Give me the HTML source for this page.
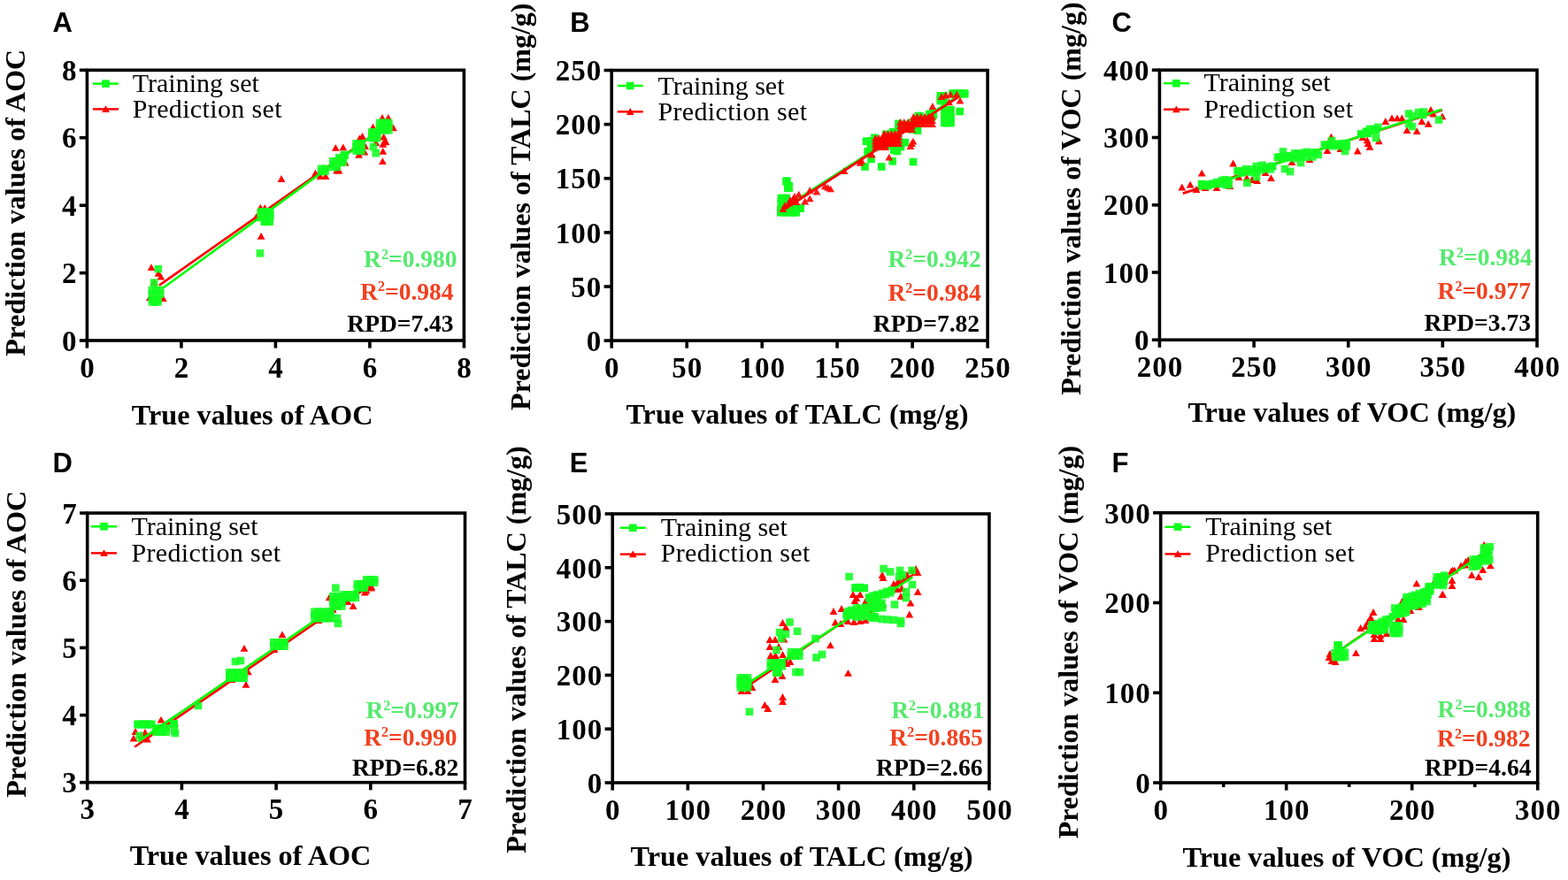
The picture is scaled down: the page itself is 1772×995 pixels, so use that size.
<!DOCTYPE html>
<html><head><meta charset="utf-8"><title>Prediction vs true values</title>
<style>
html,body{margin:0;padding:0;background:#fff;}
body{width:1772px;height:995px;overflow:hidden;}
svg{display:block;}
.tk{font-family:'Liberation Serif', 'Times New Roman', serif;font-weight:bold;font-size:33px;fill:#000;letter-spacing:1px;}
.ti{font-family:'Liberation Serif', 'Times New Roman', serif;font-weight:bold;font-size:32px;fill:#000;}
.tx{font-size:32.25px;}
.lg{font-family:'Liberation Serif', 'Times New Roman', serif;font-size:30px;fill:#000;}
.st{font-family:'Liberation Serif', 'Times New Roman', serif;font-weight:bold;font-size:27.5px;}
.sup{font-size:16px;}
.pl{font-family:'Liberation Sans', Arial, sans-serif;font-weight:bold;font-size:31px;fill:#000;}
</style></head><body>
<svg width="1772" height="995" viewBox="0 0 1772 995">
<rect width="1772" height="995" fill="#fff"/>
<text class="pl" x="59.5" y="36.2">A</text>
<text class="pl" x="644.2" y="35.8">B</text>
<text class="pl" x="1256.5" y="36.4">C</text>
<text class="pl" x="59.6" y="534.3">D</text>
<text class="pl" x="643.7" y="534">E</text>
<text class="pl" x="1256.6" y="534">F</text>
<rect x="98.4" y="79.3" width="426" height="305.7" fill="none" stroke="#000" stroke-width="3.6"/>
<line x1="98.4" y1="385" x2="98.4" y2="393.6" stroke="#000" stroke-width="3.6"/>
<line x1="204.9" y1="385" x2="204.9" y2="393.6" stroke="#000" stroke-width="3.6"/>
<line x1="311.4" y1="385" x2="311.4" y2="393.6" stroke="#000" stroke-width="3.6"/>
<line x1="417.9" y1="385" x2="417.9" y2="393.6" stroke="#000" stroke-width="3.6"/>
<line x1="524.4" y1="385" x2="524.4" y2="393.6" stroke="#000" stroke-width="3.6"/>
<line x1="98.4" y1="385" x2="89.8" y2="385" stroke="#000" stroke-width="3.6"/>
<line x1="98.4" y1="308.6" x2="89.8" y2="308.6" stroke="#000" stroke-width="3.6"/>
<line x1="98.4" y1="232.2" x2="89.8" y2="232.2" stroke="#000" stroke-width="3.6"/>
<line x1="98.4" y1="155.7" x2="89.8" y2="155.7" stroke="#000" stroke-width="3.6"/>
<line x1="98.4" y1="79.3" x2="89.8" y2="79.3" stroke="#000" stroke-width="3.6"/>
<text class="tk" x="98.9" y="426.6" text-anchor="middle">0</text>
<text class="tk" x="205.4" y="426.6" text-anchor="middle">2</text>
<text class="tk" x="311.9" y="426.6" text-anchor="middle">4</text>
<text class="tk" x="418.4" y="426.6" text-anchor="middle">6</text>
<text class="tk" x="524.9" y="426.6" text-anchor="middle">8</text>
<text class="tk" x="87.4" y="396.7" text-anchor="end">0</text>
<text class="tk" x="87.4" y="320.3" text-anchor="end">2</text>
<text class="tk" x="87.4" y="243.8" text-anchor="end">4</text>
<text class="tk" x="87.4" y="167.4" text-anchor="end">6</text>
<text class="tk" x="87.4" y="91" text-anchor="end">8</text>
<text class="ti" transform="translate(28.4 402.8) rotate(-90)">Prediction values of AOC</text>
<text class="ti tx" x="148.8" y="480.3">True values of AOC</text>
<line x1="105" y1="94.6" x2="134" y2="94.6" stroke="#00ff00" stroke-width="2.5"/>
<g fill="#10ff20"><rect x="115.2" y="90.3" width="8.6" height="8.6"/></g>
<line x1="105" y1="123.4" x2="134" y2="123.4" stroke="#ff0000" stroke-width="2.5"/>
<g fill="#ff0000"><path d="M119.5 119.2L123.9 127L115.1 127Z"/></g>
<text class="lg" x="149.8" y="104.4">Training set</text>
<text class="lg" x="149.8" y="133" letter-spacing="0.35">Prediction set</text>
<text class="st" x="411.1" y="302.2" fill="#55ea6e">R<tspan class="sup" dy="-9.4">2</tspan><tspan dy="9.4">=0.980</tspan></text>
<text class="st" x="407.2" y="338.6" fill="#f2401f">R<tspan class="sup" dy="-9.4">2</tspan><tspan dy="9.4">=0.984</tspan></text>
<text class="st" x="392.3" y="374.5" fill="#000">RPD=7.43</text>
<g fill="#ff0000"><path d="M171 298.3L175.4 306.1L166.6 306.1Z"/><path d="M181.8 308.8L186.2 316.6L177.4 316.6Z"/><path d="M179 304.9L183.4 312.7L174.6 312.7Z"/><path d="M174 315.1L178.4 322.9L169.6 322.9Z"/><path d="M169.4 332.5L173.8 340.3L165 340.3Z"/><path d="M184.3 333.1L188.7 340.9L179.9 340.9Z"/><path d="M176 336.1L180.4 343.9L171.6 343.9Z"/><path d="M294.3 230.8L298.7 238.6L289.9 238.6Z"/><path d="M289.8 241L294.2 248.8L285.4 248.8Z"/><path d="M299.2 231.1L303.6 238.9L294.8 238.9Z"/><path d="M295.1 262.9L299.5 270.7L290.7 270.7Z"/><path d="M318 198.1L322.4 205.9L313.6 205.9Z"/><path d="M356.4 191.8L360.8 199.6L352 199.6Z"/><path d="M362 195.1L366.4 202.9L357.6 202.9Z"/><path d="M368 195.1L372.4 202.9L363.6 202.9Z"/><path d="M379.3 162.9L383.7 170.7L374.9 170.7Z"/><path d="M387.8 162.5L392.2 170.3L383.4 170.3Z"/><path d="M390.2 179.8L394.6 187.6L385.8 187.6Z"/><path d="M380.5 188.6L384.9 196.4L376.1 196.4Z"/><path d="M383 188.6L387.4 196.4L378.6 196.4Z"/><path d="M409.5 150L413.9 157.8L405.1 157.8Z"/><path d="M406.3 152.5L410.7 160.3L401.9 160.3Z"/><path d="M405.5 170.9L409.9 178.7L401.1 178.7Z"/><path d="M411.9 167.7L416.3 175.5L407.5 175.5Z"/><path d="M412.7 161.3L417.1 169.1L408.3 169.1Z"/><path d="M421.5 139.6L425.9 147.4L417.1 147.4Z"/><path d="M424.8 157.3L429.2 165.1L420.4 165.1Z"/><path d="M432 129.1L436.4 136.9L427.6 136.9Z"/><path d="M438.8 129.1L443.2 136.9L434.4 136.9Z"/><path d="M444.5 140.4L448.9 148.2L440.1 148.2Z"/><path d="M433.6 150.8L438 158.6L429.2 158.6Z"/><path d="M435.2 154.9L439.6 162.7L430.8 162.7Z"/><path d="M432.8 158.9L437.2 166.7L428.4 166.7Z"/><path d="M436 156.5L440.4 164.3L431.6 164.3Z"/><path d="M432.8 166.9L437.2 174.7L428.4 174.7Z"/><path d="M432.4 178.2L436.8 186L428 186Z"/></g>
<line x1="179.9" y1="322.6" x2="441" y2="139.2" stroke="#ff0000" stroke-width="2.7"/>
<line x1="183.8" y1="326" x2="441" y2="138.6" stroke="#00ff00" stroke-width="2.7"/>
<g fill="#10ff20" fill-opacity="0.88"><rect x="167.5" y="323.7" width="8.6" height="8.6"/><rect x="167.5" y="328.4" width="8.6" height="8.6"/><rect x="172.1" y="323.7" width="8.6" height="8.6"/><rect x="172.1" y="328.4" width="8.6" height="8.6"/><rect x="176.8" y="323.7" width="8.6" height="8.6"/><rect x="176.8" y="328.4" width="8.6" height="8.6"/><rect x="167.7" y="335" width="8.6" height="8.6"/><rect x="167.7" y="337.2" width="8.6" height="8.6"/><rect x="170.9" y="335" width="8.6" height="8.6"/><rect x="170.9" y="337.2" width="8.6" height="8.6"/><rect x="174.1" y="335" width="8.6" height="8.6"/><rect x="174.1" y="337.2" width="8.6" height="8.6"/><rect x="174.5" y="299.8" width="8.6" height="8.6"/><rect x="169.8" y="315.3" width="8.6" height="8.6"/><rect x="290.6" y="235.1" width="8.6" height="8.6"/><rect x="290.6" y="238.3" width="8.6" height="8.6"/><rect x="290.6" y="241.6" width="8.6" height="8.6"/><rect x="294" y="235.1" width="8.6" height="8.6"/><rect x="294" y="238.3" width="8.6" height="8.6"/><rect x="294" y="241.6" width="8.6" height="8.6"/><rect x="297.4" y="235.1" width="8.6" height="8.6"/><rect x="297.4" y="238.3" width="8.6" height="8.6"/><rect x="297.4" y="241.6" width="8.6" height="8.6"/><rect x="300.8" y="235.1" width="8.6" height="8.6"/><rect x="300.8" y="238.3" width="8.6" height="8.6"/><rect x="300.8" y="241.6" width="8.6" height="8.6"/><rect x="294.7" y="246" width="8.6" height="8.6"/><rect x="294.7" y="246.5" width="8.6" height="8.6"/><rect x="297.4" y="246" width="8.6" height="8.6"/><rect x="297.4" y="246.5" width="8.6" height="8.6"/><rect x="300.1" y="246" width="8.6" height="8.6"/><rect x="300.1" y="246.5" width="8.6" height="8.6"/><rect x="289.7" y="282.1" width="8.6" height="8.6"/><rect x="358.8" y="186.5" width="8.6" height="8.6"/><rect x="358.8" y="189.6" width="8.6" height="8.6"/><rect x="363.1" y="186.5" width="8.6" height="8.6"/><rect x="363.1" y="189.6" width="8.6" height="8.6"/><rect x="372" y="178" width="8.6" height="8.6"/><rect x="372" y="181.3" width="8.6" height="8.6"/><rect x="372" y="184.7" width="8.6" height="8.6"/><rect x="376.4" y="178" width="8.6" height="8.6"/><rect x="376.4" y="181.3" width="8.6" height="8.6"/><rect x="376.4" y="184.7" width="8.6" height="8.6"/><rect x="379" y="174" width="8.6" height="8.6"/><rect x="379" y="176.7" width="8.6" height="8.6"/><rect x="379" y="179.4" width="8.6" height="8.6"/><rect x="383.4" y="174" width="8.6" height="8.6"/><rect x="383.4" y="176.7" width="8.6" height="8.6"/><rect x="383.4" y="179.4" width="8.6" height="8.6"/><rect x="384.9" y="170.8" width="8.6" height="8.6"/><rect x="384.9" y="171.4" width="8.6" height="8.6"/><rect x="384.9" y="170.8" width="8.6" height="8.6"/><rect x="384.9" y="171.4" width="8.6" height="8.6"/><rect x="398.2" y="158" width="8.6" height="8.6"/><rect x="398.2" y="162.1" width="8.6" height="8.6"/><rect x="398.2" y="166.2" width="8.6" height="8.6"/><rect x="401.1" y="158" width="8.6" height="8.6"/><rect x="401.1" y="162.1" width="8.6" height="8.6"/><rect x="401.1" y="166.2" width="8.6" height="8.6"/><rect x="404.1" y="158" width="8.6" height="8.6"/><rect x="404.1" y="162.1" width="8.6" height="8.6"/><rect x="404.1" y="166.2" width="8.6" height="8.6"/><rect x="415.9" y="145.1" width="8.6" height="8.6"/><rect x="415.9" y="148.4" width="8.6" height="8.6"/><rect x="415.9" y="151.8" width="8.6" height="8.6"/><rect x="418.8" y="145.1" width="8.6" height="8.6"/><rect x="418.8" y="148.4" width="8.6" height="8.6"/><rect x="418.8" y="151.8" width="8.6" height="8.6"/><rect x="421.8" y="145.1" width="8.6" height="8.6"/><rect x="421.8" y="148.4" width="8.6" height="8.6"/><rect x="421.8" y="151.8" width="8.6" height="8.6"/><rect x="424.8" y="134.6" width="8.6" height="8.6"/><rect x="424.8" y="138.8" width="8.6" height="8.6"/><rect x="424.8" y="142.9" width="8.6" height="8.6"/><rect x="428.2" y="134.6" width="8.6" height="8.6"/><rect x="428.2" y="138.8" width="8.6" height="8.6"/><rect x="428.2" y="142.9" width="8.6" height="8.6"/><rect x="431.6" y="134.6" width="8.6" height="8.6"/><rect x="431.6" y="138.8" width="8.6" height="8.6"/><rect x="431.6" y="142.9" width="8.6" height="8.6"/><rect x="435" y="134.6" width="8.6" height="8.6"/><rect x="435" y="138.8" width="8.6" height="8.6"/><rect x="435" y="142.9" width="8.6" height="8.6"/><rect x="417.6" y="161.7" width="8.6" height="8.6"/><rect x="420.5" y="168.9" width="8.6" height="8.6"/></g>
<rect x="691.2" y="79.5" width="424.9" height="305.6" fill="none" stroke="#000" stroke-width="3.6"/>
<line x1="691.2" y1="385.1" x2="691.2" y2="393.7" stroke="#000" stroke-width="3.6"/>
<line x1="776.2" y1="385.1" x2="776.2" y2="393.7" stroke="#000" stroke-width="3.6"/>
<line x1="861.2" y1="385.1" x2="861.2" y2="393.7" stroke="#000" stroke-width="3.6"/>
<line x1="946.1" y1="385.1" x2="946.1" y2="393.7" stroke="#000" stroke-width="3.6"/>
<line x1="1031.1" y1="385.1" x2="1031.1" y2="393.7" stroke="#000" stroke-width="3.6"/>
<line x1="1116.1" y1="385.1" x2="1116.1" y2="393.7" stroke="#000" stroke-width="3.6"/>
<line x1="691.2" y1="385.1" x2="682.6" y2="385.1" stroke="#000" stroke-width="3.6"/>
<line x1="691.2" y1="324" x2="682.6" y2="324" stroke="#000" stroke-width="3.6"/>
<line x1="691.2" y1="262.9" x2="682.6" y2="262.9" stroke="#000" stroke-width="3.6"/>
<line x1="691.2" y1="201.7" x2="682.6" y2="201.7" stroke="#000" stroke-width="3.6"/>
<line x1="691.2" y1="140.6" x2="682.6" y2="140.6" stroke="#000" stroke-width="3.6"/>
<line x1="691.2" y1="79.5" x2="682.6" y2="79.5" stroke="#000" stroke-width="3.6"/>
<text class="tk" x="691.7" y="426.7" text-anchor="middle">0</text>
<text class="tk" x="776.7" y="426.7" text-anchor="middle">50</text>
<text class="tk" x="861.7" y="426.7" text-anchor="middle">100</text>
<text class="tk" x="946.6" y="426.7" text-anchor="middle">150</text>
<text class="tk" x="1031.6" y="426.7" text-anchor="middle">200</text>
<text class="tk" x="1116.6" y="426.7" text-anchor="middle">250</text>
<text class="tk" x="680.2" y="396.8" text-anchor="end">0</text>
<text class="tk" x="680.2" y="335.7" text-anchor="end">50</text>
<text class="tk" x="680.2" y="274.6" text-anchor="end">100</text>
<text class="tk" x="680.2" y="213.4" text-anchor="end">150</text>
<text class="tk" x="680.2" y="152.3" text-anchor="end">200</text>
<text class="tk" x="680.2" y="91.2" text-anchor="end">250</text>
<text class="ti" transform="translate(599.0 463.9) rotate(-90)">Prediction values of TALC (mg/g)</text>
<text class="ti tx" x="707.5" y="478.5">True values of TALC (mg/g)</text>
<line x1="697.7" y1="97" x2="726.7" y2="97" stroke="#00ff00" stroke-width="2.5"/>
<g fill="#10ff20"><rect x="707.9" y="92.7" width="8.6" height="8.6"/></g>
<line x1="697.7" y1="126.3" x2="726.7" y2="126.3" stroke="#ff0000" stroke-width="2.5"/>
<g fill="#ff0000"><path d="M712.2 122.1L716.6 129.9L707.8 129.9Z"/></g>
<text class="lg" x="743.4" y="106.6">Training set</text>
<text class="lg" x="743.4" y="135.8" letter-spacing="0.35">Prediction set</text>
<text class="st" x="1003.4" y="302.1" fill="#55ea6e">R<tspan class="sup" dy="-9.4">2</tspan><tspan dy="9.4">=0.942</tspan></text>
<text class="st" x="1003.4" y="340.2" fill="#f2401f">R<tspan class="sup" dy="-9.4">2</tspan><tspan dy="9.4">=0.984</tspan></text>
<text class="st" x="986.8" y="374.5" fill="#000">RPD=7.82</text>
<g fill="#10ff20"><rect x="884.5" y="200.5" width="8.6" height="8.6"/><rect x="884.5" y="200.9" width="8.6" height="8.6"/><rect x="884.9" y="200.5" width="8.6" height="8.6"/><rect x="884.9" y="200.9" width="8.6" height="8.6"/><rect x="886" y="206" width="8.6" height="8.6"/><rect x="886" y="208.4" width="8.6" height="8.6"/><rect x="887.4" y="206" width="8.6" height="8.6"/><rect x="887.4" y="208.4" width="8.6" height="8.6"/><rect x="878.6" y="219.7" width="8.6" height="8.6"/><rect x="878.6" y="223" width="8.6" height="8.6"/><rect x="878.6" y="226.4" width="8.6" height="8.6"/><rect x="881.5" y="219.7" width="8.6" height="8.6"/><rect x="881.5" y="223" width="8.6" height="8.6"/><rect x="881.5" y="226.4" width="8.6" height="8.6"/><rect x="884.4" y="219.7" width="8.6" height="8.6"/><rect x="884.4" y="223" width="8.6" height="8.6"/><rect x="884.4" y="226.4" width="8.6" height="8.6"/><rect x="878" y="233" width="8.6" height="8.6"/><rect x="878" y="236" width="8.6" height="8.6"/><rect x="882.4" y="233" width="8.6" height="8.6"/><rect x="882.4" y="236" width="8.6" height="8.6"/><rect x="886.7" y="233" width="8.6" height="8.6"/><rect x="886.7" y="236" width="8.6" height="8.6"/><rect x="891.1" y="233" width="8.6" height="8.6"/><rect x="891.1" y="236" width="8.6" height="8.6"/><rect x="895.4" y="233" width="8.6" height="8.6"/><rect x="895.4" y="236" width="8.6" height="8.6"/><rect x="890" y="231" width="8.6" height="8.6"/><rect x="890" y="231.4" width="8.6" height="8.6"/><rect x="893.5" y="231" width="8.6" height="8.6"/><rect x="893.5" y="231.4" width="8.6" height="8.6"/><rect x="896.9" y="231" width="8.6" height="8.6"/><rect x="896.9" y="231.4" width="8.6" height="8.6"/><rect x="900.4" y="231" width="8.6" height="8.6"/><rect x="900.4" y="231.4" width="8.6" height="8.6"/><rect x="997.8" y="160.1" width="8.6" height="8.6"/><rect x="1010.9" y="151.1" width="8.6" height="8.6"/><rect x="985" y="155.7" width="8.6" height="8.6"/><rect x="1001.7" y="158.6" width="8.6" height="8.6"/><rect x="979.9" y="155" width="8.6" height="8.6"/><rect x="1005.1" y="150.5" width="8.6" height="8.6"/><rect x="990.7" y="155.8" width="8.6" height="8.6"/><rect x="985.7" y="156" width="8.6" height="8.6"/><rect x="983.9" y="162.7" width="8.6" height="8.6"/><rect x="1003.6" y="150.9" width="8.6" height="8.6"/><rect x="991.7" y="155.1" width="8.6" height="8.6"/><rect x="1000" y="151.8" width="8.6" height="8.6"/><rect x="996.8" y="147.5" width="8.6" height="8.6"/><rect x="1001.3" y="152.7" width="8.6" height="8.6"/><rect x="982.1" y="155.1" width="8.6" height="8.6"/><rect x="979.5" y="163.4" width="8.6" height="8.6"/><rect x="974.7" y="155.4" width="8.6" height="8.6"/><rect x="984.1" y="151.5" width="8.6" height="8.6"/><rect x="976.3" y="167.1" width="8.6" height="8.6"/><rect x="980.2" y="175.7" width="8.6" height="8.6"/><rect x="973.2" y="184.2" width="8.6" height="8.6"/><rect x="991.9" y="184.2" width="8.6" height="8.6"/><rect x="1004.4" y="178" width="8.6" height="8.6"/><rect x="1006" y="165.5" width="8.6" height="8.6"/><rect x="1027.7" y="178.7" width="8.6" height="8.6"/><rect x="1032.4" y="142.1" width="8.6" height="8.6"/><rect x="1026.2" y="142.1" width="8.6" height="8.6"/><rect x="1018.7" y="156.8" width="8.6" height="8.6"/><rect x="1013.8" y="161.7" width="8.6" height="8.6"/><rect x="1004.7" y="144.8" width="8.6" height="8.6"/><rect x="1032.7" y="143.4" width="8.6" height="8.6"/><rect x="1009.6" y="166.7" width="8.6" height="8.6"/><rect x="1011.2" y="135.5" width="8.6" height="8.6"/><rect x="1038.3" y="129.6" width="8.6" height="8.6"/><rect x="1033.6" y="127" width="8.6" height="8.6"/><rect x="1029.6" y="134" width="8.6" height="8.6"/><rect x="1046.8" y="127" width="8.6" height="8.6"/><rect x="1013.2" y="142" width="8.6" height="8.6"/><rect x="1037.2" y="130.7" width="8.6" height="8.6"/><rect x="1026.7" y="134.5" width="8.6" height="8.6"/><rect x="1011.1" y="141.1" width="8.6" height="8.6"/><rect x="1035" y="126.7" width="8.6" height="8.6"/><rect x="1020.4" y="136.8" width="8.6" height="8.6"/><rect x="1039.3" y="129.3" width="8.6" height="8.6"/><rect x="1046.1" y="124.6" width="8.6" height="8.6"/><rect x="1032.4" y="132.1" width="8.6" height="8.6"/><rect x="1030.3" y="135.4" width="8.6" height="8.6"/><rect x="1047.5" y="130" width="8.6" height="8.6"/><rect x="1027.9" y="134" width="8.6" height="8.6"/><rect x="1035.1" y="134.5" width="8.6" height="8.6"/><rect x="1023.3" y="137" width="8.6" height="8.6"/><rect x="1048.1" y="128.4" width="8.6" height="8.6"/><rect x="1050.6" y="125.9" width="8.6" height="8.6"/><rect x="1050.3" y="123.7" width="8.6" height="8.6"/><rect x="1072.6" y="101.2" width="8.6" height="8.6"/><rect x="1072.6" y="102" width="8.6" height="8.6"/><rect x="1077" y="101.2" width="8.6" height="8.6"/><rect x="1077" y="102" width="8.6" height="8.6"/><rect x="1081.4" y="101.2" width="8.6" height="8.6"/><rect x="1081.4" y="102" width="8.6" height="8.6"/><rect x="1085.8" y="101.2" width="8.6" height="8.6"/><rect x="1085.8" y="102" width="8.6" height="8.6"/><rect x="1058.6" y="104" width="8.6" height="8.6"/><rect x="1058.6" y="106.9" width="8.6" height="8.6"/><rect x="1058.6" y="109.8" width="8.6" height="8.6"/><rect x="1062.4" y="104" width="8.6" height="8.6"/><rect x="1062.4" y="106.9" width="8.6" height="8.6"/><rect x="1062.4" y="109.8" width="8.6" height="8.6"/><rect x="1063.2" y="120" width="8.6" height="8.6"/><rect x="1063.2" y="124.9" width="8.6" height="8.6"/><rect x="1063.2" y="129.8" width="8.6" height="8.6"/><rect x="1063.2" y="134.7" width="8.6" height="8.6"/><rect x="1066.7" y="120" width="8.6" height="8.6"/><rect x="1066.7" y="124.9" width="8.6" height="8.6"/><rect x="1066.7" y="129.8" width="8.6" height="8.6"/><rect x="1066.7" y="134.7" width="8.6" height="8.6"/><rect x="1070.2" y="120" width="8.6" height="8.6"/><rect x="1070.2" y="124.9" width="8.6" height="8.6"/><rect x="1070.2" y="129.8" width="8.6" height="8.6"/><rect x="1070.2" y="134.7" width="8.6" height="8.6"/><rect x="1080.4" y="121.7" width="8.6" height="8.6"/></g>
<line x1="887" y1="234.5" x2="1083" y2="108.5" stroke="#00ff00" stroke-width="2.7"/>
<line x1="885" y1="237.5" x2="1083" y2="109.8" stroke="#ff0000" stroke-width="2.7"/>
<g fill="#ff0000" fill-opacity="0.9"><path d="M887.1 228.2L891.5 236L882.7 236Z"/><path d="M891.8 225.1L896.2 232.9L887.4 232.9Z"/><path d="M896.5 220.4L900.9 228.2L892.1 228.2Z"/><path d="M902.7 215.8L907.1 223.6L898.3 223.6Z"/><path d="M909.7 223.6L914.1 231.4L905.3 231.4Z"/><path d="M915.2 220.4L919.6 228.2L910.8 228.2Z"/><path d="M915.2 211.1L919.6 218.9L910.8 218.9Z"/><path d="M923 212.7L927.4 220.5L918.6 220.5Z"/><path d="M932.3 206.4L936.7 214.2L927.9 214.2Z"/><path d="M935.5 208L939.9 215.8L931.1 215.8Z"/><path d="M938.6 209.5L943 217.3L934.2 217.3Z"/><path d="M954.2 189.3L958.6 197.1L949.8 197.1Z"/><path d="M972 179.9L976.4 187.7L967.6 187.7Z"/><path d="M973.6 177.6L978 185.4L969.2 185.4Z"/><path d="M985.3 170.6L989.7 178.4L980.9 178.4Z"/><path d="M1004.8 173.7L1009.2 181.5L1000.4 181.5Z"/><path d="M1029 161.1L1033.4 168.9L1024.6 168.9Z"/><path d="M1030.5 158.1L1034.9 165.9L1026.1 165.9Z"/><path d="M1032 155.8L1036.4 163.6L1027.6 163.6Z"/><path d="M1053.9 116.1L1058.3 123.9L1049.5 123.9Z"/><path d="M1085 109.8L1089.4 117.6L1080.6 117.6Z"/><path d="M1064 105.1L1068.4 112.9L1059.6 112.9Z"/><path d="M1068.7 103.6L1073.1 111.4L1064.3 111.4Z"/><path d="M1074.1 102.8L1078.5 110.6L1069.7 110.6Z"/><path d="M1081.2 102.8L1085.6 110.6L1076.8 110.6Z"/><path d="M1072.6 111.4L1077 119.2L1068.2 119.2Z"/><path d="M893 222.1L897.4 229.9L888.6 229.9Z"/><path d="M898 218.1L902.4 225.9L893.6 225.9Z"/><path d="M885 232.1L889.4 239.9L880.6 239.9Z"/><path d="M900 224.1L904.4 231.9L895.6 231.9Z"/><path d="M989.4 152L993.8 159.8L985 159.8Z"/><path d="M989.4 155.4L993.8 163.2L985 163.2Z"/><path d="M989.4 158.8L993.8 166.6L985 166.6Z"/><path d="M989.4 162.2L993.8 170L985 170Z"/><path d="M993.1 152L997.5 159.8L988.7 159.8Z"/><path d="M993.1 155.4L997.5 163.2L988.7 163.2Z"/><path d="M993.1 158.8L997.5 166.6L988.7 166.6Z"/><path d="M993.1 162.2L997.5 170L988.7 170Z"/><path d="M996.9 152L1001.3 159.8L992.5 159.8Z"/><path d="M996.9 155.4L1001.3 163.2L992.5 163.2Z"/><path d="M996.9 158.8L1001.3 166.6L992.5 166.6Z"/><path d="M996.9 162.2L1001.3 170L992.5 170Z"/><path d="M1000.6 152L1005 159.8L996.2 159.8Z"/><path d="M1000.6 155.4L1005 163.2L996.2 163.2Z"/><path d="M1000.6 158.8L1005 166.6L996.2 166.6Z"/><path d="M1000.6 162.2L1005 170L996.2 170Z"/><path d="M999.4 147L1003.8 154.8L995 154.8Z"/><path d="M999.4 150.7L1003.8 158.5L995 158.5Z"/><path d="M999.4 154.5L1003.8 162.3L995 162.3Z"/><path d="M999.4 158.2L1003.8 166L995 166Z"/><path d="M1003.5 147L1007.9 154.8L999.1 154.8Z"/><path d="M1003.5 150.7L1007.9 158.5L999.1 158.5Z"/><path d="M1003.5 154.5L1007.9 162.3L999.1 162.3Z"/><path d="M1003.5 158.2L1007.9 166L999.1 166Z"/><path d="M1007.5 147L1011.9 154.8L1003.1 154.8Z"/><path d="M1007.5 150.7L1011.9 158.5L1003.1 158.5Z"/><path d="M1007.5 154.5L1011.9 162.3L1003.1 162.3Z"/><path d="M1007.5 158.2L1011.9 166L1003.1 166Z"/><path d="M1011.5 147L1015.9 154.8L1007.1 154.8Z"/><path d="M1011.5 150.7L1015.9 158.5L1007.1 158.5Z"/><path d="M1011.5 154.5L1015.9 162.3L1007.1 162.3Z"/><path d="M1011.5 158.2L1015.9 166L1007.1 166Z"/><path d="M1015.6 147L1020 154.8L1011.2 154.8Z"/><path d="M1015.6 150.7L1020 158.5L1011.2 158.5Z"/><path d="M1015.6 154.5L1020 162.3L1011.2 162.3Z"/><path d="M1015.6 158.2L1020 166L1011.2 166Z"/><path d="M1004.4 156L1008.8 163.8L1000 163.8Z"/><path d="M1004.4 158.2L1008.8 166L1000 166Z"/><path d="M1007.6 156L1012 163.8L1003.2 163.8Z"/><path d="M1007.6 158.2L1012 166L1003.2 166Z"/><path d="M1017.4 134L1021.8 141.8L1013 141.8Z"/><path d="M1017.4 138.1L1021.8 145.9L1013 145.9Z"/><path d="M1017.4 142.2L1021.8 150L1013 150Z"/><path d="M1021.8 134L1026.2 141.8L1017.4 141.8Z"/><path d="M1021.8 138.1L1026.2 145.9L1017.4 145.9Z"/><path d="M1021.8 142.2L1026.2 150L1017.4 150Z"/><path d="M1026.2 134L1030.6 141.8L1021.8 141.8Z"/><path d="M1026.2 138.1L1030.6 145.9L1021.8 145.9Z"/><path d="M1026.2 142.2L1030.6 150L1021.8 150Z"/><path d="M1030.6 134L1035 141.8L1026.2 141.8Z"/><path d="M1030.6 138.1L1035 145.9L1026.2 145.9Z"/><path d="M1030.6 142.2L1035 150L1026.2 150Z"/><path d="M1032.4 128L1036.8 135.8L1028 135.8Z"/><path d="M1032.4 132.1L1036.8 139.9L1028 139.9Z"/><path d="M1032.4 136.2L1036.8 144L1028 144Z"/><path d="M1036.6 128L1041 135.8L1032.2 135.8Z"/><path d="M1036.6 132.1L1041 139.9L1032.2 139.9Z"/><path d="M1036.6 136.2L1041 144L1032.2 144Z"/><path d="M1040.9 128L1045.3 135.8L1036.5 135.8Z"/><path d="M1040.9 132.1L1045.3 139.9L1036.5 139.9Z"/><path d="M1040.9 136.2L1045.3 144L1036.5 144Z"/><path d="M1045.1 128L1049.5 135.8L1040.7 135.8Z"/><path d="M1045.1 132.1L1049.5 139.9L1040.7 139.9Z"/><path d="M1045.1 136.2L1049.5 144L1040.7 144Z"/><path d="M1049.4 128L1053.8 135.8L1045 135.8Z"/><path d="M1049.4 132.1L1053.8 139.9L1045 139.9Z"/><path d="M1049.4 136.2L1053.8 144L1045 144Z"/><path d="M1053.6 128L1058 135.8L1049.2 135.8Z"/><path d="M1053.6 132.1L1058 139.9L1049.2 139.9Z"/><path d="M1053.6 136.2L1058 144L1049.2 144Z"/></g>
<rect x="1310.4" y="79.2" width="426.6" height="305.1" fill="none" stroke="#000" stroke-width="3.6"/>
<line x1="1310.4" y1="384.3" x2="1310.4" y2="392.9" stroke="#000" stroke-width="3.6"/>
<line x1="1417.1" y1="384.3" x2="1417.1" y2="392.9" stroke="#000" stroke-width="3.6"/>
<line x1="1523.7" y1="384.3" x2="1523.7" y2="392.9" stroke="#000" stroke-width="3.6"/>
<line x1="1630.3" y1="384.3" x2="1630.3" y2="392.9" stroke="#000" stroke-width="3.6"/>
<line x1="1737" y1="384.3" x2="1737" y2="392.9" stroke="#000" stroke-width="3.6"/>
<line x1="1310.4" y1="384.3" x2="1301.8" y2="384.3" stroke="#000" stroke-width="3.6"/>
<line x1="1310.4" y1="308" x2="1301.8" y2="308" stroke="#000" stroke-width="3.6"/>
<line x1="1310.4" y1="231.8" x2="1301.8" y2="231.8" stroke="#000" stroke-width="3.6"/>
<line x1="1310.4" y1="155.5" x2="1301.8" y2="155.5" stroke="#000" stroke-width="3.6"/>
<line x1="1310.4" y1="79.2" x2="1301.8" y2="79.2" stroke="#000" stroke-width="3.6"/>
<text class="tk" x="1310.9" y="425.9" text-anchor="middle">200</text>
<text class="tk" x="1417.6" y="425.9" text-anchor="middle">250</text>
<text class="tk" x="1524.2" y="425.9" text-anchor="middle">300</text>
<text class="tk" x="1630.8" y="425.9" text-anchor="middle">350</text>
<text class="tk" x="1737.5" y="425.9" text-anchor="middle">400</text>
<text class="tk" x="1299.4" y="396" text-anchor="end">0</text>
<text class="tk" x="1299.4" y="319.7" text-anchor="end">100</text>
<text class="tk" x="1299.4" y="243.4" text-anchor="end">200</text>
<text class="tk" x="1299.4" y="167.2" text-anchor="end">300</text>
<text class="tk" x="1299.4" y="90.9" text-anchor="end">400</text>
<text class="ti" transform="translate(1220.7 446.8) rotate(-90)">Prediction values of VOC (mg/g)</text>
<text class="ti tx" x="1342.5" y="476.6">True values of VOC (mg/g)</text>
<line x1="1314.9" y1="94.2" x2="1343.9" y2="94.2" stroke="#00ff00" stroke-width="2.5"/>
<g fill="#10ff20"><rect x="1325.1" y="89.9" width="8.6" height="8.6"/></g>
<line x1="1314.9" y1="123.7" x2="1343.9" y2="123.7" stroke="#ff0000" stroke-width="2.5"/>
<g fill="#ff0000"><path d="M1329.4 119.5L1333.8 127.3L1325 127.3Z"/></g>
<text class="lg" x="1360.4" y="103.3">Training set</text>
<text class="lg" x="1360.4" y="133.2" letter-spacing="0.35">Prediction set</text>
<text class="st" x="1626.1" y="300.1" fill="#55ea6e">R<tspan class="sup" dy="-9.4">2</tspan><tspan dy="9.4">=0.984</tspan></text>
<text class="st" x="1624.5" y="338" fill="#f2401f">R<tspan class="sup" dy="-9.4">2</tspan><tspan dy="9.4">=0.977</tspan></text>
<text class="st" x="1609.6" y="374" fill="#000">RPD=3.73</text>
<g fill="#ff0000"><path d="M1335.8 207.6L1340.2 215.4L1331.4 215.4Z"/><path d="M1345.1 204.8L1349.5 212.6L1340.7 212.6Z"/><path d="M1358.2 191.8L1362.6 199.6L1353.8 199.6Z"/><path d="M1393.6 180.6L1398 188.4L1389.2 188.4Z"/><path d="M1409 197.1L1413.4 204.9L1404.6 204.9Z"/><path d="M1415 199.1L1419.4 206.9L1410.6 206.9Z"/><path d="M1420.6 200.1L1425 207.9L1416.2 207.9Z"/><path d="M1436.4 197.3L1440.8 205.1L1432 205.1Z"/><path d="M1504.4 150.8L1508.8 158.6L1500 158.6Z"/><path d="M1534.2 166.6L1538.6 174.4L1529.8 174.4Z"/><path d="M1545 154.5L1549.4 162.3L1540.6 162.3Z"/><path d="M1546 158.1L1550.4 165.9L1541.6 165.9Z"/><path d="M1548 162L1552.4 169.8L1543.6 169.8Z"/><path d="M1558.4 155.4L1562.8 163.2L1554 163.2Z"/><path d="M1565.8 133.1L1570.2 140.9L1561.4 140.9Z"/><path d="M1573 129.4L1577.4 137.2L1568.6 137.2Z"/><path d="M1579 129.4L1583.4 137.2L1574.6 137.2Z"/><path d="M1584.4 129.4L1588.8 137.2L1580 137.2Z"/><path d="M1590 143.3L1594.4 151.1L1585.6 151.1Z"/><path d="M1601.2 144.3L1605.6 152.1L1596.8 152.1Z"/><path d="M1606.8 133.1L1611.2 140.9L1602.4 140.9Z"/><path d="M1614.2 135.9L1618.6 143.7L1609.8 143.7Z"/><path d="M1617 120.1L1621.4 127.9L1612.6 127.9Z"/><path d="M1619.8 124.7L1624.2 132.5L1615.4 132.5Z"/><path d="M1630 127.5L1634.4 135.3L1625.6 135.3Z"/><path d="M1352 210.1L1356.4 217.9L1347.6 217.9Z"/><path d="M1362 208.1L1366.4 215.9L1357.6 215.9Z"/><path d="M1375 208.1L1379.4 215.9L1370.6 215.9Z"/><path d="M1390 206.1L1394.4 213.9L1385.6 213.9Z"/><path d="M1400 196.1L1404.4 203.9L1395.6 203.9Z"/><path d="M1430 191.1L1434.4 198.9L1425.6 198.9Z"/><path d="M1460 179.1L1464.4 186.9L1455.6 186.9Z"/><path d="M1480 176.1L1484.4 183.9L1475.6 183.9Z"/><path d="M1500 166.1L1504.4 173.9L1495.6 173.9Z"/><path d="M1515 164.1L1519.4 171.9L1510.6 171.9Z"/><path d="M1540 151.1L1544.4 158.9L1535.6 158.9Z"/></g>
<line x1="1336.8" y1="218.6" x2="1630" y2="124.5" stroke="#ff0000" stroke-width="2.7"/>
<line x1="1355" y1="214" x2="1629" y2="123.9" stroke="#00ff00" stroke-width="2.7"/>
<g fill="#10ff20" fill-opacity="0.88"><rect x="1353.9" y="203.7" width="8.6" height="8.6"/><rect x="1353.7" y="204.4" width="8.6" height="8.6"/><rect x="1361.5" y="204.1" width="8.6" height="8.6"/><rect x="1360.5" y="205.9" width="8.6" height="8.6"/><rect x="1365.5" y="203.9" width="8.6" height="8.6"/><rect x="1366" y="203.5" width="8.6" height="8.6"/><rect x="1370.9" y="201.7" width="8.6" height="8.6"/><rect x="1370.8" y="203.6" width="8.6" height="8.6"/><rect x="1376.5" y="199.8" width="8.6" height="8.6"/><rect x="1375" y="203.5" width="8.6" height="8.6"/><rect x="1380" y="198.9" width="8.6" height="8.6"/><rect x="1381.7" y="204.8" width="8.6" height="8.6"/><rect x="1384.2" y="199.5" width="8.6" height="8.6"/><rect x="1384.4" y="204.5" width="8.6" height="8.6"/><rect x="1395.4" y="188.9" width="8.6" height="8.6"/><rect x="1394.2" y="189.1" width="8.6" height="8.6"/><rect x="1400.6" y="189.2" width="8.6" height="8.6"/><rect x="1399.7" y="191.1" width="8.6" height="8.6"/><rect x="1403.7" y="186.8" width="8.6" height="8.6"/><rect x="1404.3" y="189.6" width="8.6" height="8.6"/><rect x="1411.1" y="187.1" width="8.6" height="8.6"/><rect x="1410.8" y="190.6" width="8.6" height="8.6"/><rect x="1415.5" y="183.6" width="8.6" height="8.6"/><rect x="1416" y="189.8" width="8.6" height="8.6"/><rect x="1422.3" y="182.5" width="8.6" height="8.6"/><rect x="1420.7" y="187.8" width="8.6" height="8.6"/><rect x="1426.9" y="184.6" width="8.6" height="8.6"/><rect x="1426.2" y="186.8" width="8.6" height="8.6"/><rect x="1433.8" y="183.8" width="8.6" height="8.6"/><rect x="1433.4" y="183.6" width="8.6" height="8.6"/><rect x="1431.5" y="187" width="8.6" height="8.6"/><rect x="1439.5" y="173.7" width="8.6" height="8.6"/><rect x="1441.4" y="173.1" width="8.6" height="8.6"/><rect x="1447.4" y="172.2" width="8.6" height="8.6"/><rect x="1447.6" y="174.2" width="8.6" height="8.6"/><rect x="1452.7" y="172.2" width="8.6" height="8.6"/><rect x="1451.3" y="172" width="8.6" height="8.6"/><rect x="1458.7" y="169.2" width="8.6" height="8.6"/><rect x="1457.5" y="174.9" width="8.6" height="8.6"/><rect x="1462.2" y="169.1" width="8.6" height="8.6"/><rect x="1462.3" y="171.7" width="8.6" height="8.6"/><rect x="1469" y="168.6" width="8.6" height="8.6"/><rect x="1466.6" y="172.8" width="8.6" height="8.6"/><rect x="1472.7" y="167.5" width="8.6" height="8.6"/><rect x="1471.8" y="173.4" width="8.6" height="8.6"/><rect x="1478.5" y="168.4" width="8.6" height="8.6"/><rect x="1478.9" y="173.1" width="8.6" height="8.6"/><rect x="1482.8" y="167.9" width="8.6" height="8.6"/><rect x="1485.6" y="170.7" width="8.6" height="8.6"/><rect x="1445.7" y="167.2" width="8.6" height="8.6"/><rect x="1492.6" y="159.4" width="8.6" height="8.6"/><rect x="1493.3" y="159.6" width="8.6" height="8.6"/><rect x="1498" y="159.9" width="8.6" height="8.6"/><rect x="1498.7" y="159.3" width="8.6" height="8.6"/><rect x="1504.7" y="158.6" width="8.6" height="8.6"/><rect x="1501.5" y="160.9" width="8.6" height="8.6"/><rect x="1509.8" y="160.8" width="8.6" height="8.6"/><rect x="1509.2" y="158.9" width="8.6" height="8.6"/><rect x="1512" y="158.1" width="8.6" height="8.6"/><rect x="1512.1" y="158.9" width="8.6" height="8.6"/><rect x="1517.4" y="157.7" width="8.6" height="8.6"/><rect x="1517.5" y="161.2" width="8.6" height="8.6"/><rect x="1533.8" y="147.5" width="8.6" height="8.6"/><rect x="1534.1" y="147.2" width="8.6" height="8.6"/><rect x="1539.5" y="144.3" width="8.6" height="8.6"/><rect x="1540.1" y="146.1" width="8.6" height="8.6"/><rect x="1541.3" y="144.9" width="8.6" height="8.6"/><rect x="1541.7" y="146.6" width="8.6" height="8.6"/><rect x="1547.7" y="141.6" width="8.6" height="8.6"/><rect x="1548.7" y="143.1" width="8.6" height="8.6"/><rect x="1553" y="139.5" width="8.6" height="8.6"/><rect x="1550.7" y="143" width="8.6" height="8.6"/><rect x="1587.7" y="124.2" width="8.6" height="8.6"/><rect x="1591.7" y="126.7" width="8.6" height="8.6"/><rect x="1598.7" y="122.7" width="8.6" height="8.6"/><rect x="1604.7" y="122.2" width="8.6" height="8.6"/><rect x="1587.7" y="135.7" width="8.6" height="8.6"/><rect x="1591.7" y="138.7" width="8.6" height="8.6"/><rect x="1603.7" y="125.7" width="8.6" height="8.6"/><rect x="1405.1" y="202.5" width="8.6" height="8.6"/><rect x="1447.7" y="186.7" width="8.6" height="8.6"/><rect x="1453.7" y="189.7" width="8.6" height="8.6"/><rect x="1621.7" y="131.2" width="8.6" height="8.6"/><rect x="1355.7" y="205.7" width="8.6" height="8.6"/><rect x="1415.7" y="195.7" width="8.6" height="8.6"/><rect x="1465.7" y="179.7" width="8.6" height="8.6"/><rect x="1500.7" y="154.7" width="8.6" height="8.6"/><rect x="1515.7" y="166.7" width="8.6" height="8.6"/><rect x="1543.7" y="141.7" width="8.6" height="8.6"/><rect x="1550.7" y="151.7" width="8.6" height="8.6"/></g>
<rect x="98.7" y="580.1" width="426.8" height="304.6" fill="none" stroke="#000" stroke-width="3.6"/>
<line x1="98.7" y1="884.7" x2="98.7" y2="893.3" stroke="#000" stroke-width="3.6"/>
<line x1="205.4" y1="884.7" x2="205.4" y2="893.3" stroke="#000" stroke-width="3.6"/>
<line x1="312.1" y1="884.7" x2="312.1" y2="893.3" stroke="#000" stroke-width="3.6"/>
<line x1="418.8" y1="884.7" x2="418.8" y2="893.3" stroke="#000" stroke-width="3.6"/>
<line x1="525.5" y1="884.7" x2="525.5" y2="893.3" stroke="#000" stroke-width="3.6"/>
<line x1="98.7" y1="884.7" x2="90.1" y2="884.7" stroke="#000" stroke-width="3.6"/>
<line x1="98.7" y1="808.6" x2="90.1" y2="808.6" stroke="#000" stroke-width="3.6"/>
<line x1="98.7" y1="732.4" x2="90.1" y2="732.4" stroke="#000" stroke-width="3.6"/>
<line x1="98.7" y1="656.2" x2="90.1" y2="656.2" stroke="#000" stroke-width="3.6"/>
<line x1="98.7" y1="580.1" x2="90.1" y2="580.1" stroke="#000" stroke-width="3.6"/>
<text class="tk" x="99.2" y="926.3" text-anchor="middle">3</text>
<text class="tk" x="205.9" y="926.3" text-anchor="middle">4</text>
<text class="tk" x="312.6" y="926.3" text-anchor="middle">5</text>
<text class="tk" x="419.3" y="926.3" text-anchor="middle">6</text>
<text class="tk" x="526" y="926.3" text-anchor="middle">7</text>
<text class="tk" x="87.7" y="896.4" text-anchor="end">3</text>
<text class="tk" x="87.7" y="820.3" text-anchor="end">4</text>
<text class="tk" x="87.7" y="744.1" text-anchor="end">5</text>
<text class="tk" x="87.7" y="668" text-anchor="end">6</text>
<text class="tk" x="87.7" y="591.8" text-anchor="end">7</text>
<text class="ti" transform="translate(28.6 901.8) rotate(-90)">Prediction values of AOC</text>
<text class="ti tx" x="146.7" y="977.8">True values of AOC</text>
<line x1="103" y1="595.3" x2="132" y2="595.3" stroke="#00ff00" stroke-width="2.5"/>
<g fill="#10ff20"><rect x="113.2" y="591" width="8.6" height="8.6"/></g>
<line x1="103" y1="625.4" x2="132" y2="625.4" stroke="#ff0000" stroke-width="2.5"/>
<g fill="#ff0000"><path d="M117.5 621.2L121.9 629L113.1 629Z"/></g>
<text class="lg" x="148.4" y="604.6">Training set</text>
<text class="lg" x="148.4" y="634.5" letter-spacing="0.35">Prediction set</text>
<text class="st" x="413.4" y="812.1" fill="#55ea6e">R<tspan class="sup" dy="-9.4">2</tspan><tspan dy="9.4">=0.997</tspan></text>
<text class="st" x="411.2" y="842.5" fill="#f2401f">R<tspan class="sup" dy="-9.4">2</tspan><tspan dy="9.4">=0.990</tspan></text>
<text class="st" x="397.9" y="876.8" fill="#000">RPD=6.82</text>
<g fill="#ff0000"><path d="M153 823.1L157.4 830.9L148.6 830.9Z"/><path d="M151 830.7L155.4 838.5L146.6 838.5Z"/><path d="M164 824.1L168.4 831.9L159.6 831.9Z"/><path d="M166.5 831.8L170.9 839.6L162.1 839.6Z"/><path d="M182 809.7L186.4 817.5L177.6 817.5Z"/><path d="M197.5 813.1L201.9 820.9L193.1 820.9Z"/><path d="M160 827.1L164.4 834.9L155.6 834.9Z"/><path d="M175 822.1L179.4 829.9L170.6 829.9Z"/><path d="M188 818.1L192.4 825.9L183.6 825.9Z"/><path d="M276 729L280.4 736.8L271.6 736.8Z"/><path d="M278 769.9L282.4 777.7L273.6 777.7Z"/><path d="M280.4 755.5L284.8 763.3L276 763.3Z"/><path d="M262 764.1L266.4 771.9L257.6 771.9Z"/><path d="M319 713.5L323.4 721.3L314.6 721.3Z"/><path d="M310 730.1L314.4 737.9L305.6 737.9Z"/><path d="M360 697.1L364.4 704.9L355.6 704.9Z"/><path d="M372 695.1L376.4 702.9L367.6 702.9Z"/><path d="M399.1 681.1L403.5 688.9L394.7 688.9Z"/><path d="M419.6 660.6L424 668.4L415.2 668.4Z"/><path d="M412.3 665.8L416.7 673.6L407.9 673.6Z"/><path d="M393 676.3L397.4 684.1L388.6 684.1Z"/><path d="M372.2 671.5L376.6 679.3L367.8 679.3Z"/><path d="M376.2 685.1L380.6 692.9L371.8 692.9Z"/><path d="M414 663.7L418.4 671.5L409.6 671.5Z"/><path d="M419.7 659.3L424.1 667.1L415.3 667.1Z"/></g>
<line x1="152.2" y1="844.5" x2="421" y2="660" stroke="#ff0000" stroke-width="2.7"/>
<line x1="156" y1="838.5" x2="424" y2="655" stroke="#00ff00" stroke-width="2.7"/>
<g fill="#10ff20" fill-opacity="0.88"><rect x="151.5" y="814.5" width="8.6" height="8.6"/><rect x="151.5" y="814.9" width="8.6" height="8.6"/><rect x="155.3" y="814.5" width="8.6" height="8.6"/><rect x="155.3" y="814.9" width="8.6" height="8.6"/><rect x="159.1" y="814.5" width="8.6" height="8.6"/><rect x="159.1" y="814.9" width="8.6" height="8.6"/><rect x="163" y="814.5" width="8.6" height="8.6"/><rect x="163" y="814.9" width="8.6" height="8.6"/><rect x="166.8" y="814.5" width="8.6" height="8.6"/><rect x="166.8" y="814.9" width="8.6" height="8.6"/><rect x="172" y="819" width="8.6" height="8.6"/><rect x="172" y="823.4" width="8.6" height="8.6"/><rect x="175.8" y="819" width="8.6" height="8.6"/><rect x="175.8" y="823.4" width="8.6" height="8.6"/><rect x="179.6" y="819" width="8.6" height="8.6"/><rect x="179.6" y="823.4" width="8.6" height="8.6"/><rect x="183.4" y="819" width="8.6" height="8.6"/><rect x="183.4" y="823.4" width="8.6" height="8.6"/><rect x="192" y="814.5" width="8.6" height="8.6"/><rect x="192" y="814.5" width="8.6" height="8.6"/><rect x="192.4" y="814.5" width="8.6" height="8.6"/><rect x="192.4" y="814.5" width="8.6" height="8.6"/><rect x="192.7" y="821.7" width="8.6" height="8.6"/><rect x="193.7" y="824.7" width="8.6" height="8.6"/><rect x="219.7" y="793.7" width="8.6" height="8.6"/><rect x="255" y="756" width="8.6" height="8.6"/><rect x="255" y="759.2" width="8.6" height="8.6"/><rect x="255" y="762.4" width="8.6" height="8.6"/><rect x="259.1" y="756" width="8.6" height="8.6"/><rect x="259.1" y="759.2" width="8.6" height="8.6"/><rect x="259.1" y="762.4" width="8.6" height="8.6"/><rect x="263.2" y="756" width="8.6" height="8.6"/><rect x="263.2" y="759.2" width="8.6" height="8.6"/><rect x="263.2" y="762.4" width="8.6" height="8.6"/><rect x="267.3" y="756" width="8.6" height="8.6"/><rect x="267.3" y="759.2" width="8.6" height="8.6"/><rect x="267.3" y="762.4" width="8.6" height="8.6"/><rect x="271.4" y="756" width="8.6" height="8.6"/><rect x="271.4" y="759.2" width="8.6" height="8.6"/><rect x="271.4" y="762.4" width="8.6" height="8.6"/><rect x="261.7" y="743.7" width="8.6" height="8.6"/><rect x="267.7" y="742.7" width="8.6" height="8.6"/><rect x="305" y="722" width="8.6" height="8.6"/><rect x="305" y="726.4" width="8.6" height="8.6"/><rect x="309.1" y="722" width="8.6" height="8.6"/><rect x="309.1" y="726.4" width="8.6" height="8.6"/><rect x="313.3" y="722" width="8.6" height="8.6"/><rect x="313.3" y="726.4" width="8.6" height="8.6"/><rect x="317.4" y="722" width="8.6" height="8.6"/><rect x="317.4" y="726.4" width="8.6" height="8.6"/><rect x="351.3" y="687.4" width="8.6" height="8.6"/><rect x="351.3" y="691.2" width="8.6" height="8.6"/><rect x="351.3" y="694.9" width="8.6" height="8.6"/><rect x="355.8" y="687.4" width="8.6" height="8.6"/><rect x="355.8" y="691.2" width="8.6" height="8.6"/><rect x="355.8" y="694.9" width="8.6" height="8.6"/><rect x="360.2" y="687.4" width="8.6" height="8.6"/><rect x="360.2" y="691.2" width="8.6" height="8.6"/><rect x="360.2" y="694.9" width="8.6" height="8.6"/><rect x="364.7" y="687.4" width="8.6" height="8.6"/><rect x="364.7" y="691.2" width="8.6" height="8.6"/><rect x="364.7" y="694.9" width="8.6" height="8.6"/><rect x="369.2" y="687.4" width="8.6" height="8.6"/><rect x="369.2" y="691.2" width="8.6" height="8.6"/><rect x="369.2" y="694.9" width="8.6" height="8.6"/><rect x="376.7" y="694.7" width="8.6" height="8.6"/><rect x="377.7" y="700.7" width="8.6" height="8.6"/><rect x="375.1" y="660.4" width="8.6" height="8.6"/><rect x="372.2" y="669.7" width="8.6" height="8.6"/><rect x="372.2" y="673.5" width="8.6" height="8.6"/><rect x="372.2" y="677.4" width="8.6" height="8.6"/><rect x="372.2" y="681.2" width="8.6" height="8.6"/><rect x="377.1" y="669.7" width="8.6" height="8.6"/><rect x="377.1" y="673.5" width="8.6" height="8.6"/><rect x="377.1" y="677.4" width="8.6" height="8.6"/><rect x="377.1" y="681.2" width="8.6" height="8.6"/><rect x="382" y="669.7" width="8.6" height="8.6"/><rect x="382" y="673.5" width="8.6" height="8.6"/><rect x="382" y="677.4" width="8.6" height="8.6"/><rect x="382" y="681.2" width="8.6" height="8.6"/><rect x="384.2" y="668.1" width="8.6" height="8.6"/><rect x="384.2" y="671.6" width="8.6" height="8.6"/><rect x="388.6" y="668.1" width="8.6" height="8.6"/><rect x="388.6" y="671.6" width="8.6" height="8.6"/><rect x="392.9" y="668.1" width="8.6" height="8.6"/><rect x="392.9" y="671.6" width="8.6" height="8.6"/><rect x="397.3" y="668.1" width="8.6" height="8.6"/><rect x="397.3" y="671.6" width="8.6" height="8.6"/><rect x="410" y="651" width="8.6" height="8.6"/><rect x="410" y="654.4" width="8.6" height="8.6"/><rect x="414.5" y="651" width="8.6" height="8.6"/><rect x="414.5" y="654.4" width="8.6" height="8.6"/><rect x="419" y="651" width="8.6" height="8.6"/><rect x="419" y="654.4" width="8.6" height="8.6"/><rect x="399.5" y="656" width="8.6" height="8.6"/><rect x="399.5" y="660.4" width="8.6" height="8.6"/><rect x="403.4" y="656" width="8.6" height="8.6"/><rect x="403.4" y="660.4" width="8.6" height="8.6"/><rect x="407.4" y="656" width="8.6" height="8.6"/><rect x="407.4" y="660.4" width="8.6" height="8.6"/><rect x="153.2" y="827.7" width="8.6" height="8.6"/></g>
<line x1="156" y1="838.5" x2="200" y2="808.4" stroke="#00ff00" stroke-width="2.7"/>
<rect x="692.2" y="581" width="425.7" height="304" fill="none" stroke="#000" stroke-width="3.6"/>
<line x1="692.2" y1="885" x2="692.2" y2="893.6" stroke="#000" stroke-width="3.6"/>
<line x1="777.3" y1="885" x2="777.3" y2="893.6" stroke="#000" stroke-width="3.6"/>
<line x1="862.5" y1="885" x2="862.5" y2="893.6" stroke="#000" stroke-width="3.6"/>
<line x1="947.6" y1="885" x2="947.6" y2="893.6" stroke="#000" stroke-width="3.6"/>
<line x1="1032.8" y1="885" x2="1032.8" y2="893.6" stroke="#000" stroke-width="3.6"/>
<line x1="1117.9" y1="885" x2="1117.9" y2="893.6" stroke="#000" stroke-width="3.6"/>
<line x1="692.2" y1="885" x2="683.6" y2="885" stroke="#000" stroke-width="3.6"/>
<line x1="692.2" y1="824.2" x2="683.6" y2="824.2" stroke="#000" stroke-width="3.6"/>
<line x1="692.2" y1="763.4" x2="683.6" y2="763.4" stroke="#000" stroke-width="3.6"/>
<line x1="692.2" y1="702.6" x2="683.6" y2="702.6" stroke="#000" stroke-width="3.6"/>
<line x1="692.2" y1="641.8" x2="683.6" y2="641.8" stroke="#000" stroke-width="3.6"/>
<line x1="692.2" y1="581" x2="683.6" y2="581" stroke="#000" stroke-width="3.6"/>
<text class="tk" x="692.7" y="926.6" text-anchor="middle">0</text>
<text class="tk" x="777.8" y="926.6" text-anchor="middle">100</text>
<text class="tk" x="863" y="926.6" text-anchor="middle">200</text>
<text class="tk" x="948.1" y="926.6" text-anchor="middle">300</text>
<text class="tk" x="1033.3" y="926.6" text-anchor="middle">400</text>
<text class="tk" x="1118.4" y="926.6" text-anchor="middle">500</text>
<text class="tk" x="681.2" y="896.7" text-anchor="end">0</text>
<text class="tk" x="681.2" y="835.9" text-anchor="end">100</text>
<text class="tk" x="681.2" y="775.1" text-anchor="end">200</text>
<text class="tk" x="681.2" y="714.3" text-anchor="end">300</text>
<text class="tk" x="681.2" y="653.5" text-anchor="end">400</text>
<text class="tk" x="681.2" y="592.7" text-anchor="end">500</text>
<text class="ti" transform="translate(594.2 964.8) rotate(-90)">Prediction values of TALC (mg/g)</text>
<text class="ti tx" x="712.6" y="979.1">True values of TALC (mg/g)</text>
<line x1="700.8" y1="596.8" x2="729.8" y2="596.8" stroke="#00ff00" stroke-width="2.5"/>
<g fill="#10ff20"><rect x="711" y="592.5" width="8.6" height="8.6"/></g>
<line x1="700.8" y1="626.7" x2="729.8" y2="626.7" stroke="#ff0000" stroke-width="2.5"/>
<g fill="#ff0000"><path d="M715.3 622.5L719.7 630.3L710.9 630.3Z"/></g>
<text class="lg" x="746.7" y="605.9">Training set</text>
<text class="lg" x="746.7" y="635.1" letter-spacing="0.35">Prediction set</text>
<text class="st" x="1007.2" y="812.1" fill="#55ea6e">R<tspan class="sup" dy="-9.4">2</tspan><tspan dy="9.4">=0.881</tspan></text>
<text class="st" x="1005.3" y="842.8" fill="#f2401f">R<tspan class="sup" dy="-9.4">2</tspan><tspan dy="9.4">=0.865</tspan></text>
<text class="st" x="990.1" y="876.8" fill="#000">RPD=2.66</text>
<g fill="#ff0000"><path d="M884.5 700.1L888.9 707.9L880.1 707.9Z"/><path d="M888 705.1L892.4 712.9L883.6 712.9Z"/><path d="M870 719.1L874.4 726.9L865.6 726.9Z"/><path d="M876 719.1L880.4 726.9L871.6 726.9Z"/><path d="M886 718.8L890.4 726.6L881.6 726.6Z"/><path d="M870 727.1L874.4 734.9L865.6 734.9Z"/><path d="M880 727.1L884.4 734.9L875.6 734.9Z"/><path d="M871 737.1L875.4 744.9L866.6 744.9Z"/><path d="M876.4 737.1L880.8 744.9L872 744.9Z"/><path d="M884.5 736.1L888.9 743.9L880.1 743.9Z"/><path d="M889 746.1L893.4 753.9L884.6 753.9Z"/><path d="M893 744.1L897.4 751.9L888.6 751.9Z"/><path d="M876 764.1L880.4 771.9L871.6 771.9Z"/><path d="M884 760.1L888.4 767.9L879.6 767.9Z"/><path d="M884.5 784.1L888.9 791.9L880.1 791.9Z"/><path d="M884.5 789.1L888.9 796.9L880.1 796.9Z"/><path d="M864.3 793.1L868.7 800.9L859.9 800.9Z"/><path d="M867.7 797.1L872.1 804.9L863.3 804.9Z"/><path d="M838 777.1L842.4 784.9L833.6 784.9Z"/><path d="M845 777.1L849.4 784.9L840.6 784.9Z"/><path d="M850 773.1L854.4 780.9L845.6 780.9Z"/><path d="M938.4 725.4L942.8 733.2L934 733.2Z"/><path d="M958.5 756.9L962.9 764.7L954.1 764.7Z"/><path d="M997 646.1L1001.4 653.9L992.6 653.9Z"/><path d="M998 649.1L1002.4 656.9L993.6 656.9Z"/><path d="M1030 641.1L1034.4 648.9L1025.6 648.9Z"/><path d="M1035 639.1L1039.4 646.9L1030.6 646.9Z"/><path d="M1037 643.1L1041.4 650.9L1032.6 650.9Z"/><path d="M1010 656.1L1014.4 663.9L1005.6 663.9Z"/><path d="M1015 653.1L1019.4 660.9L1010.6 660.9Z"/><path d="M1020 649.1L1024.4 656.9L1015.6 656.9Z"/><path d="M1025 646.1L1029.4 653.9L1020.6 653.9Z"/><path d="M1014 662.1L1018.4 669.9L1009.6 669.9Z"/><path d="M1019 661.1L1023.4 668.9L1014.6 668.9Z"/><path d="M1018 670.1L1022.4 677.9L1013.6 677.9Z"/><path d="M1037.2 665.1L1041.6 672.9L1032.8 672.9Z"/><path d="M1029 677.8L1033.4 685.6L1024.6 685.6Z"/><path d="M1027.8 690.6L1032.2 698.4L1023.4 698.4Z"/><path d="M964 668.1L968.4 675.9L959.6 675.9Z"/><path d="M968 672.1L972.4 679.9L963.6 679.9Z"/><path d="M972 668.1L976.4 675.9L967.6 675.9Z"/><path d="M966 675.1L970.4 682.9L961.6 682.9Z"/><path d="M978 676.1L982.4 683.9L973.6 683.9Z"/><path d="M942 687.1L946.4 694.9L937.6 694.9Z"/><path d="M951 684.1L955.4 691.9L946.6 691.9Z"/><path d="M944 699.6L948.4 707.4L939.6 707.4Z"/><path d="M950 701.1L954.4 708.9L945.6 708.9Z"/><path d="M958 698.1L962.4 705.9L953.6 705.9Z"/><path d="M965 699.1L969.4 706.9L960.6 706.9Z"/><path d="M972 698.1L976.4 705.9L967.6 705.9Z"/><path d="M978 697.1L982.4 704.9L973.6 704.9Z"/><path d="M983 686.1L987.4 693.9L978.6 693.9Z"/><path d="M998 679.1L1002.4 686.9L993.6 686.9Z"/></g>
<line x1="840" y1="779" x2="1033" y2="649" stroke="#ff0000" stroke-width="2.7"/>
<line x1="843" y1="774" x2="1031.2" y2="652.7" stroke="#00ff00" stroke-width="2.7"/>
<g fill="#10ff20" fill-opacity="0.88"><rect x="832.5" y="762" width="8.6" height="8.6"/><rect x="832.5" y="765.7" width="8.6" height="8.6"/><rect x="832.5" y="769.4" width="8.6" height="8.6"/><rect x="832.5" y="773.1" width="8.6" height="8.6"/><rect x="836.6" y="762" width="8.6" height="8.6"/><rect x="836.6" y="765.7" width="8.6" height="8.6"/><rect x="836.6" y="769.4" width="8.6" height="8.6"/><rect x="836.6" y="773.1" width="8.6" height="8.6"/><rect x="840.7" y="762" width="8.6" height="8.6"/><rect x="840.7" y="765.7" width="8.6" height="8.6"/><rect x="840.7" y="769.4" width="8.6" height="8.6"/><rect x="840.7" y="773.1" width="8.6" height="8.6"/><rect x="842.7" y="800.5" width="8.6" height="8.6"/><rect x="866.6" y="745" width="8.6" height="8.6"/><rect x="866.6" y="748.8" width="8.6" height="8.6"/><rect x="870.9" y="745" width="8.6" height="8.6"/><rect x="870.9" y="748.8" width="8.6" height="8.6"/><rect x="875.1" y="745" width="8.6" height="8.6"/><rect x="875.1" y="748.8" width="8.6" height="8.6"/><rect x="879.4" y="745" width="8.6" height="8.6"/><rect x="879.4" y="748.8" width="8.6" height="8.6"/><rect x="873" y="756.4" width="8.6" height="8.6"/><rect x="873" y="756.4" width="8.6" height="8.6"/><rect x="875.4" y="756.4" width="8.6" height="8.6"/><rect x="875.4" y="756.4" width="8.6" height="8.6"/><rect x="889.7" y="733" width="8.6" height="8.6"/><rect x="889.7" y="737.4" width="8.6" height="8.6"/><rect x="894.4" y="733" width="8.6" height="8.6"/><rect x="894.4" y="737.4" width="8.6" height="8.6"/><rect x="899" y="733" width="8.6" height="8.6"/><rect x="899" y="737.4" width="8.6" height="8.6"/><rect x="895.2" y="755.7" width="8.6" height="8.6"/><rect x="899.7" y="755.7" width="8.6" height="8.6"/><rect x="917.2" y="717.7" width="8.6" height="8.6"/><rect x="918.2" y="739.2" width="8.6" height="8.6"/><rect x="924.7" y="735.7" width="8.6" height="8.6"/><rect x="888.2" y="699.2" width="8.6" height="8.6"/><rect x="896.7" y="709.5" width="8.6" height="8.6"/><rect x="876.7" y="710.7" width="8.6" height="8.6"/><rect x="883.7" y="712.7" width="8.6" height="8.6"/><rect x="878.7" y="717.7" width="8.6" height="8.6"/><rect x="873.2" y="730.7" width="8.6" height="8.6"/><rect x="955.3" y="647.7" width="8.6" height="8.6"/><rect x="994.2" y="638.7" width="8.6" height="8.6"/><rect x="1001.7" y="642.2" width="8.6" height="8.6"/><rect x="1012.7" y="640.7" width="8.6" height="8.6"/><rect x="1015.7" y="645.7" width="8.6" height="8.6"/><rect x="1011.7" y="647.7" width="8.6" height="8.6"/><rect x="1026.2" y="640.7" width="8.6" height="8.6"/><rect x="1006.7" y="679.2" width="8.6" height="8.6"/><rect x="1019.7" y="664.7" width="8.6" height="8.6"/><rect x="1019.7" y="671.7" width="8.6" height="8.6"/><rect x="1026.7" y="656.7" width="8.6" height="8.6"/><rect x="962.1" y="660.5" width="8.6" height="8.6"/><rect x="962.8" y="660" width="8.6" height="8.6"/><rect x="966.8" y="660.7" width="8.6" height="8.6"/><rect x="967.5" y="659.8" width="8.6" height="8.6"/><rect x="972.2" y="660.5" width="8.6" height="8.6"/><rect x="972.4" y="660.7" width="8.6" height="8.6"/><rect x="977.8" y="671.2" width="8.6" height="8.6"/><rect x="978" y="672.1" width="8.6" height="8.6"/><rect x="982.2" y="669.2" width="8.6" height="8.6"/><rect x="982.3" y="672" width="8.6" height="8.6"/><rect x="987.1" y="668.2" width="8.6" height="8.6"/><rect x="986.8" y="669.4" width="8.6" height="8.6"/><rect x="992.8" y="666.5" width="8.6" height="8.6"/><rect x="993.5" y="667.8" width="8.6" height="8.6"/><rect x="997.8" y="664.6" width="8.6" height="8.6"/><rect x="996.7" y="667.7" width="8.6" height="8.6"/><rect x="1003.1" y="663.1" width="8.6" height="8.6"/><rect x="1001.7" y="666.1" width="8.6" height="8.6"/><rect x="954.1" y="687" width="8.6" height="8.6"/><rect x="953.1" y="689.7" width="8.6" height="8.6"/><rect x="952.3" y="691.4" width="8.6" height="8.6"/><rect x="957.9" y="685.6" width="8.6" height="8.6"/><rect x="958.8" y="688.8" width="8.6" height="8.6"/><rect x="959.2" y="691.8" width="8.6" height="8.6"/><rect x="963.6" y="683.1" width="8.6" height="8.6"/><rect x="962.5" y="687.7" width="8.6" height="8.6"/><rect x="964.3" y="693.3" width="8.6" height="8.6"/><rect x="968.4" y="683.8" width="8.6" height="8.6"/><rect x="969.4" y="687.7" width="8.6" height="8.6"/><rect x="969.2" y="692.6" width="8.6" height="8.6"/><rect x="973.9" y="682.4" width="8.6" height="8.6"/><rect x="973.1" y="685.9" width="8.6" height="8.6"/><rect x="974" y="688.4" width="8.6" height="8.6"/><rect x="974" y="692.5" width="8.6" height="8.6"/><rect x="980.1" y="679.5" width="8.6" height="8.6"/><rect x="980.4" y="682.5" width="8.6" height="8.6"/><rect x="981.9" y="684.1" width="8.6" height="8.6"/><rect x="984.8" y="678" width="8.6" height="8.6"/><rect x="984.6" y="681.6" width="8.6" height="8.6"/><rect x="985.5" y="683.3" width="8.6" height="8.6"/><rect x="988.7" y="678.2" width="8.6" height="8.6"/><rect x="988.8" y="682.3" width="8.6" height="8.6"/><rect x="992.2" y="677.4" width="8.6" height="8.6"/><rect x="993.2" y="682.9" width="8.6" height="8.6"/><rect x="981" y="693" width="8.6" height="8.6"/><rect x="981" y="694.4" width="8.6" height="8.6"/><rect x="984.4" y="693" width="8.6" height="8.6"/><rect x="984.4" y="694.4" width="8.6" height="8.6"/><rect x="991.7" y="695.7" width="8.6" height="8.6"/><rect x="998.7" y="696.2" width="8.6" height="8.6"/><rect x="1005.7" y="696.7" width="8.6" height="8.6"/><rect x="1013.7" y="697.7" width="8.6" height="8.6"/><rect x="1013.7" y="700.7" width="8.6" height="8.6"/></g>
<rect x="1311.7" y="579.8" width="426" height="305.2" fill="none" stroke="#000" stroke-width="3.6"/>
<line x1="1311.7" y1="885" x2="1311.7" y2="893.6" stroke="#000" stroke-width="3.6"/>
<line x1="1453.7" y1="885" x2="1453.7" y2="893.6" stroke="#000" stroke-width="3.6"/>
<line x1="1595.7" y1="885" x2="1595.7" y2="893.6" stroke="#000" stroke-width="3.6"/>
<line x1="1737.7" y1="885" x2="1737.7" y2="893.6" stroke="#000" stroke-width="3.6"/>
<line x1="1382.7" y1="885" x2="1382.7" y2="890" stroke="#000" stroke-width="3.6"/>
<line x1="1524.7" y1="885" x2="1524.7" y2="890" stroke="#000" stroke-width="3.6"/>
<line x1="1666.7" y1="885" x2="1666.7" y2="890" stroke="#000" stroke-width="3.6"/>
<line x1="1311.7" y1="885" x2="1303.1" y2="885" stroke="#000" stroke-width="3.6"/>
<line x1="1311.7" y1="783.3" x2="1303.1" y2="783.3" stroke="#000" stroke-width="3.6"/>
<line x1="1311.7" y1="681.5" x2="1303.1" y2="681.5" stroke="#000" stroke-width="3.6"/>
<line x1="1311.7" y1="579.8" x2="1303.1" y2="579.8" stroke="#000" stroke-width="3.6"/>
<text class="tk" x="1312.2" y="926.6" text-anchor="middle">0</text>
<text class="tk" x="1454.2" y="926.6" text-anchor="middle">100</text>
<text class="tk" x="1596.2" y="926.6" text-anchor="middle">200</text>
<text class="tk" x="1738.2" y="926.6" text-anchor="middle">300</text>
<text class="tk" x="1300.7" y="896.7" text-anchor="end">0</text>
<text class="tk" x="1300.7" y="795" text-anchor="end">100</text>
<text class="tk" x="1300.7" y="693.2" text-anchor="end">200</text>
<text class="tk" x="1300.7" y="591.5" text-anchor="end">300</text>
<text class="ti" transform="translate(1218.0 948.3) rotate(-90)">Prediction values of VOC (mg/g)</text>
<text class="ti tx" x="1336.6" y="979.7">True values of VOC (mg/g)</text>
<line x1="1316.5" y1="595.8" x2="1345.5" y2="595.8" stroke="#00ff00" stroke-width="2.5"/>
<g fill="#10ff20"><rect x="1326.7" y="591.5" width="8.6" height="8.6"/></g>
<line x1="1316.5" y1="626.4" x2="1345.5" y2="626.4" stroke="#ff0000" stroke-width="2.5"/>
<g fill="#ff0000"><path d="M1331 622.2L1335.4 630L1326.6 630Z"/></g>
<text class="lg" x="1362.2" y="605.3">Training set</text>
<text class="lg" x="1362.2" y="635.1" letter-spacing="0.35">Prediction set</text>
<text class="st" x="1624.5" y="811" fill="#55ea6e">R<tspan class="sup" dy="-9.4">2</tspan><tspan dy="9.4">=0.988</tspan></text>
<text class="st" x="1624.1" y="844.1" fill="#f2401f">R<tspan class="sup" dy="-9.4">2</tspan><tspan dy="9.4">=0.982</tspan></text>
<text class="st" x="1610.1" y="876.8" fill="#000">RPD=4.64</text>
<g fill="#ff0000"><path d="M1502 739.1L1506.4 746.9L1497.6 746.9Z"/><path d="M1505 743.1L1509.4 750.9L1500.6 750.9Z"/><path d="M1509 744.1L1513.4 751.9L1504.6 751.9Z"/><path d="M1503 735.1L1507.4 742.9L1498.6 742.9Z"/><path d="M1532.4 734.3L1536.8 742.1L1528 742.1Z"/><path d="M1552 688.1L1556.4 695.9L1547.6 695.9Z"/><path d="M1549 694.1L1553.4 701.9L1544.6 701.9Z"/><path d="M1546 699.1L1550.4 706.9L1541.6 706.9Z"/><path d="M1543 704.1L1547.4 711.9L1538.6 711.9Z"/><path d="M1537.6 706.1L1542 713.9L1533.2 713.9Z"/><path d="M1553 713.1L1557.4 720.9L1548.6 720.9Z"/><path d="M1560 714.1L1564.4 721.9L1555.6 721.9Z"/><path d="M1567 712.1L1571.4 719.9L1562.6 719.9Z"/><path d="M1553 718.1L1557.4 725.9L1548.6 725.9Z"/><path d="M1560 718.1L1564.4 725.9L1555.6 725.9Z"/><path d="M1584.6 676.1L1589 683.9L1580.2 683.9Z"/><path d="M1586 696.1L1590.4 703.9L1581.6 703.9Z"/><path d="M1580 696.1L1584.4 703.9L1575.6 703.9Z"/><path d="M1600.9 655.6L1605.3 663.4L1596.5 663.4Z"/><path d="M1630.5 668.1L1634.9 675.9L1626.1 675.9Z"/><path d="M1630 668.1L1634.4 675.9L1625.6 675.9Z"/><path d="M1620 655.1L1624.4 662.9L1615.6 662.9Z"/><path d="M1594 686.1L1598.4 693.9L1589.6 693.9Z"/><path d="M1603.4 682.1L1607.8 689.9L1599 689.9Z"/><path d="M1641 652.1L1645.4 659.9L1636.6 659.9Z"/><path d="M1641 658.1L1645.4 665.9L1636.6 665.9Z"/><path d="M1663.2 646.1L1667.6 653.9L1658.8 653.9Z"/><path d="M1671 648.1L1675.4 655.9L1666.6 655.9Z"/><path d="M1675.7 640.1L1680.1 647.9L1671.3 647.9Z"/><path d="M1684.3 635.4L1688.7 643.2L1679.9 643.2Z"/><path d="M1677.2 612.1L1681.6 619.9L1672.8 619.9Z"/><path d="M1656.4 631.1L1660.8 638.9L1652 638.9Z"/><path d="M1658.3 631.1L1662.7 638.9L1653.9 638.9Z"/><path d="M1659.6 629.4L1664 637.2L1655.2 637.2Z"/><path d="M1640.2 641.7L1644.6 649.5L1635.8 649.5Z"/><path d="M1641.6 640.8L1646 648.6L1637.2 648.6Z"/><path d="M1659 629.5L1663.4 637.3L1654.6 637.3Z"/><path d="M1651.1 635.4L1655.5 643.2L1646.7 643.2Z"/><path d="M1655.9 634.6L1660.3 642.4L1651.5 642.4Z"/><path d="M1643.7 640.8L1648.1 648.6L1639.3 648.6Z"/></g>
<line x1="1507" y1="740" x2="1684" y2="620" stroke="#ff0000" stroke-width="2.7"/>
<line x1="1508" y1="739.5" x2="1682" y2="622" stroke="#00ff00" stroke-width="2.7"/>
<g fill="#10ff20" fill-opacity="0.88"><rect x="1507.5" y="725" width="8.6" height="8.6"/><rect x="1507.5" y="725.7" width="8.6" height="8.6"/><rect x="1508.2" y="725" width="8.6" height="8.6"/><rect x="1508.2" y="725.7" width="8.6" height="8.6"/><rect x="1504.3" y="733.9" width="8.6" height="8.6"/><rect x="1504.8" y="738.8" width="8.6" height="8.6"/><rect x="1508.4" y="733.8" width="8.6" height="8.6"/><rect x="1508.7" y="737.8" width="8.6" height="8.6"/><rect x="1512" y="734.3" width="8.6" height="8.6"/><rect x="1511.1" y="738.9" width="8.6" height="8.6"/><rect x="1515.5" y="733.3" width="8.6" height="8.6"/><rect x="1515.6" y="738.4" width="8.6" height="8.6"/><rect x="1546.1" y="702.3" width="8.6" height="8.6"/><rect x="1545.6" y="705.6" width="8.6" height="8.6"/><rect x="1545.4" y="708.2" width="8.6" height="8.6"/><rect x="1548.9" y="702.2" width="8.6" height="8.6"/><rect x="1549.9" y="704.3" width="8.6" height="8.6"/><rect x="1549.8" y="708.7" width="8.6" height="8.6"/><rect x="1552.9" y="700.8" width="8.6" height="8.6"/><rect x="1553.6" y="704.8" width="8.6" height="8.6"/><rect x="1552.9" y="709.2" width="8.6" height="8.6"/><rect x="1557.4" y="698.7" width="8.6" height="8.6"/><rect x="1555.9" y="703.1" width="8.6" height="8.6"/><rect x="1556.2" y="708.1" width="8.6" height="8.6"/><rect x="1561.6" y="696.4" width="8.6" height="8.6"/><rect x="1561.2" y="701.2" width="8.6" height="8.6"/><rect x="1560.1" y="705.1" width="8.6" height="8.6"/><rect x="1560.3" y="707.7" width="8.6" height="8.6"/><rect x="1570" y="703" width="8.6" height="8.6"/><rect x="1570" y="707.4" width="8.6" height="8.6"/><rect x="1570" y="711.7" width="8.6" height="8.6"/><rect x="1573.4" y="703" width="8.6" height="8.6"/><rect x="1573.4" y="707.4" width="8.6" height="8.6"/><rect x="1573.4" y="711.7" width="8.6" height="8.6"/><rect x="1576.8" y="703" width="8.6" height="8.6"/><rect x="1576.8" y="707.4" width="8.6" height="8.6"/><rect x="1576.8" y="711.7" width="8.6" height="8.6"/><rect x="1565.7" y="695.7" width="8.6" height="8.6"/><rect x="1569.7" y="692.7" width="8.6" height="8.6"/><rect x="1562.7" y="698.7" width="8.6" height="8.6"/><rect x="1572" y="683.3" width="8.6" height="8.6"/><rect x="1573.3" y="687.6" width="8.6" height="8.6"/><rect x="1573.8" y="690.1" width="8.6" height="8.6"/><rect x="1576.5" y="683.6" width="8.6" height="8.6"/><rect x="1577.5" y="686.4" width="8.6" height="8.6"/><rect x="1577.2" y="689.7" width="8.6" height="8.6"/><rect x="1580.3" y="681.6" width="8.6" height="8.6"/><rect x="1581.6" y="684.9" width="8.6" height="8.6"/><rect x="1581.4" y="689" width="8.6" height="8.6"/><rect x="1583.7" y="679" width="8.6" height="8.6"/><rect x="1585.1" y="684.7" width="8.6" height="8.6"/><rect x="1584.7" y="688" width="8.6" height="8.6"/><rect x="1585.3" y="670.7" width="8.6" height="8.6"/><rect x="1585.1" y="673.7" width="8.6" height="8.6"/><rect x="1586.5" y="678.1" width="8.6" height="8.6"/><rect x="1586.1" y="681.3" width="8.6" height="8.6"/><rect x="1591.6" y="670.1" width="8.6" height="8.6"/><rect x="1590.7" y="673.6" width="8.6" height="8.6"/><rect x="1589.9" y="677.5" width="8.6" height="8.6"/><rect x="1591.3" y="680.4" width="8.6" height="8.6"/><rect x="1594.3" y="668.6" width="8.6" height="8.6"/><rect x="1594.3" y="672.2" width="8.6" height="8.6"/><rect x="1594.6" y="675.1" width="8.6" height="8.6"/><rect x="1594.8" y="680.7" width="8.6" height="8.6"/><rect x="1599.7" y="666.7" width="8.6" height="8.6"/><rect x="1598.5" y="670.3" width="8.6" height="8.6"/><rect x="1600.7" y="675.7" width="8.6" height="8.6"/><rect x="1599.8" y="678.9" width="8.6" height="8.6"/><rect x="1604.8" y="665.3" width="8.6" height="8.6"/><rect x="1604.7" y="670.9" width="8.6" height="8.6"/><rect x="1603.5" y="674.4" width="8.6" height="8.6"/><rect x="1603.5" y="678.1" width="8.6" height="8.6"/><rect x="1607.8" y="664.4" width="8.6" height="8.6"/><rect x="1609.6" y="668.2" width="8.6" height="8.6"/><rect x="1607.8" y="672.1" width="8.6" height="8.6"/><rect x="1608.4" y="675.8" width="8.6" height="8.6"/><rect x="1610.2" y="659.2" width="8.6" height="8.6"/><rect x="1610.2" y="664.2" width="8.6" height="8.6"/><rect x="1611.9" y="658.8" width="8.6" height="8.6"/><rect x="1611.9" y="661.4" width="8.6" height="8.6"/><rect x="1611.9" y="663.9" width="8.6" height="8.6"/><rect x="1619.4" y="648.2" width="8.6" height="8.6"/><rect x="1619.3" y="652.9" width="8.6" height="8.6"/><rect x="1618.7" y="657.2" width="8.6" height="8.6"/><rect x="1622.3" y="648.1" width="8.6" height="8.6"/><rect x="1622.7" y="649.6" width="8.6" height="8.6"/><rect x="1624.4" y="654.3" width="8.6" height="8.6"/><rect x="1623" y="656.6" width="8.6" height="8.6"/><rect x="1627.9" y="646.3" width="8.6" height="8.6"/><rect x="1627.8" y="648.7" width="8.6" height="8.6"/><rect x="1627.6" y="652.8" width="8.6" height="8.6"/><rect x="1626.8" y="657.6" width="8.6" height="8.6"/><rect x="1660.4" y="628.3" width="8.6" height="8.6"/><rect x="1660.7" y="632.6" width="8.6" height="8.6"/><rect x="1659.8" y="636.4" width="8.6" height="8.6"/><rect x="1664.1" y="628.4" width="8.6" height="8.6"/><rect x="1662.9" y="631.9" width="8.6" height="8.6"/><rect x="1664.3" y="636" width="8.6" height="8.6"/><rect x="1668.2" y="627.7" width="8.6" height="8.6"/><rect x="1667.3" y="630.4" width="8.6" height="8.6"/><rect x="1666.8" y="634.2" width="8.6" height="8.6"/><rect x="1672.6" y="615.4" width="8.6" height="8.6"/><rect x="1672.9" y="619.6" width="8.6" height="8.6"/><rect x="1672.1" y="624.6" width="8.6" height="8.6"/><rect x="1671.5" y="628.5" width="8.6" height="8.6"/><rect x="1675.9" y="615.2" width="8.6" height="8.6"/><rect x="1675.6" y="620.5" width="8.6" height="8.6"/><rect x="1675.9" y="624.1" width="8.6" height="8.6"/><rect x="1675.8" y="630.1" width="8.6" height="8.6"/><rect x="1679.6" y="613.9" width="8.6" height="8.6"/><rect x="1678.2" y="618.8" width="8.6" height="8.6"/><rect x="1677.9" y="623.8" width="8.6" height="8.6"/><rect x="1679" y="628.8" width="8.6" height="8.6"/></g>
</svg>
</body></html>
